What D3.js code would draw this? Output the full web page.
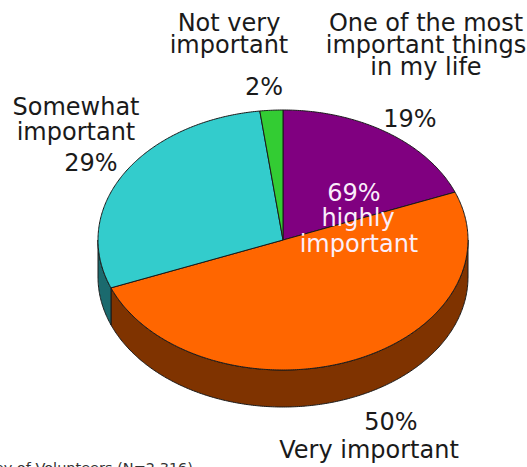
<!DOCTYPE html>
<html>
<head>
<meta charset="utf-8">
<script src="https://cdn.jsdelivr.net/npm/d3@7"></script>
<style>
  html, body { margin: 0; padding: 0; background: #ffffff; overflow: hidden; }
  svg { display: block; }
  text { font-family: "DejaVu Sans", Verdana, sans-serif; }
</style>
</head>
<body>
<svg id="chart" width="527" height="467"></svg>
<script>
// Importance of volunteering, share of respondents (%)
const categories = [
  "One of the most important things in my life",
  "Very important",
  "Somewhat important",
  "Not very important"
];
const values = [19, 50, 29, 2];
const topColors = ["#800080", "#ff6600", "#33cccc", "#33cc33"];
const sideColors = ["#400040", "#7f3300", "#1b6a6e", "#1a661a"];
const percentLabels = ["19%", "50%", "29%", "2%"];

const svg = d3.select("#chart");

// Tilted pie geometry: a flattened circle with a visible rim
const cx = 283, cy = 240, rx = 185, ry = 130, depth = 37;

const pie = d3.pie().sort(null).value(d => d).startAngle(0).endAngle(2 * Math.PI);
const arcs = pie(values).map((a, i) => ({ ...a, i }));

const px = t => cx + rx * Math.sin(t);
const py = t => cy - ry * Math.cos(t);

function arcPoints(a0, a1, dy) {
  const n = Math.max(2, Math.ceil(Math.abs(a1 - a0) / 0.01));
  return d3.range(n + 1).map(k => {
    const t = a0 + (a1 - a0) * k / n;
    return [px(t), py(t) + dy];
  });
}

const line = d3.line();

// Rim (visible only on the front half, angles π/2 .. 3π/2)
const rimLayer = svg.append("g");
arcs.forEach(a => {
  const s = Math.max(a.startAngle, Math.PI / 2);
  const e = Math.min(a.endAngle, 3 * Math.PI / 2);
  if (e <= s) return;
  const pts = arcPoints(s, e, 0).concat(arcPoints(e, s, depth));
  rimLayer.append("path")
    .attr("d", line(pts) + "Z")
    .attr("fill", sideColors[a.i])
    .attr("stroke", "#1a1a1a")
    .attr("stroke-width", 1)
    .attr("stroke-linejoin", "round");
});

// Top face slices
const faceLayer = svg.append("g");
arcs.forEach(a => {
  const pts = [[cx, cy]].concat(arcPoints(a.startAngle, a.endAngle, 0));
  faceLayer.append("path")
    .attr("d", line(pts) + "Z")
    .attr("fill", topColors[a.i])
    .attr("stroke", "#1a1a1a")
    .attr("stroke-width", 1)
    .attr("stroke-linejoin", "round");
});

// Labels
const labels = [
  { lines: ["Not very", "important"], x: 229, y: [31, 53] },
  { lines: [percentLabels[3]], x: 264, y: [95] },
  { lines: ["One of the most", "important things", "in my life"], x: 426, y: [31, 53, 75] },
  { lines: [percentLabels[0]], x: 410, y: [127] },
  { lines: ["Somewhat", "important"], x: 76, y: [115, 140] },
  { lines: [percentLabels[2]], x: 91, y: [171] },
  { lines: [percentLabels[1]], x: 391, y: [430] },
  { lines: ["Very important"], x: 369, y: [458] }
];
const lg = svg.append("g").attr("fill", "#1a1a1a").attr("font-size", 24).attr("text-anchor", "middle");
labels.forEach(l => {
  l.lines.forEach((s, k) => {
    lg.append("text").attr("x", l.x).attr("y", l.y[k]).text(s);
  });
});

// Combined share of the two top categories
const highly = values[0] + values[1];
const hg = svg.append("g").attr("fill", "#fbeefb").attr("font-size", 24).attr("text-anchor", "middle");
[[highly + "%", 354, 201], ["highly", 358, 226], ["important", 359, 252]].forEach(([s, x, y]) => {
  hg.append("text").attr("x", x).attr("y", y).text(s);
});

// Source note
svg.append("text")
  .attr("x", 193).attr("y", 473)
  .attr("text-anchor", "end")
  .attr("font-size", 14.5)
  .attr("fill", "#333")
  .text("Survey of Volunteers (N=2,316)");
</script>
</body>
</html>
